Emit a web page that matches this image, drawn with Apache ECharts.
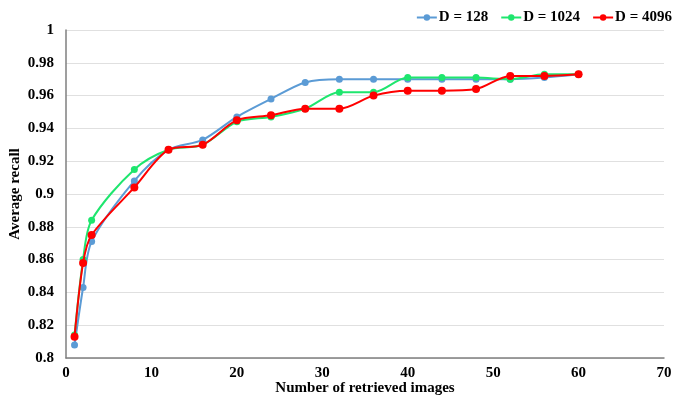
<!DOCTYPE html>
<html>
<head>
<meta charset="utf-8">
<script src="https://cdn.jsdelivr.net/npm/echarts@6/dist/echarts.min.js"></script>
<style>html,body{margin:0;padding:0;background:#fff;}#c{width:694px;height:396px;}</style>
</head>
<body>
<div id="c"></div>
<script>
const xValues = [1, 2, 3, 8, 12, 16, 20, 24, 28, 32, 36, 40, 44, 48, 52, 56, 60];
const d128  = [0.808, 0.843, 0.871, 0.908, 0.927, 0.933, 0.947, 0.958, 0.968, 0.970, 0.970, 0.970, 0.970, 0.970, 0.970, 0.971, 0.973];
const d1024 = [0.814, 0.860, 0.884, 0.915, 0.927, 0.930, 0.944, 0.947, 0.952, 0.962, 0.962, 0.971, 0.971, 0.971, 0.970, 0.973, 0.973];
const d4096 = [0.813, 0.858, 0.875, 0.904, 0.927, 0.930, 0.945, 0.948, 0.952, 0.952, 0.960, 0.963, 0.963, 0.964, 0.972, 0.972, 0.973];
const seriesNames = ['D = 128', 'D = 1024', 'D = 4096'];
const colors = ['#5B9BD5', '#1EE66E', '#FF0000'];

const font = 'Liberation Serif';
function pairs(ys){ return xValues.map((x,i)=>[x, ys[i]]); }
const all = [d128, d1024, d4096];
const chart = echarts.init(document.getElementById('c'));
chart.setOption({
  animation: false,
  backgroundColor: '#fff',
  grid: {left: 66, right: 30, top: 30, bottom: 38, outerBoundsMode: 'none', containLabel: false},
  legend: {
    top: 5, right: 17, itemWidth: 20, itemHeight: 8, itemGap: 12,
    textStyle: {fontFamily: font, fontWeight: 'bold', fontSize: 15, color: '#000', padding: [0, 0, 0, -3]},
    data: seriesNames
  },
  xAxis: {
    type: 'value', min: 0, max: 70, interval: 10,
    name: 'Number of retrieved images', nameLocation: 'middle', nameGap: 23, nameMoveOverlap: false,
    nameTextStyle: {fontFamily: font, fontWeight: 'bold', fontSize: 15, color: '#000'},
    axisLine: {lineStyle: {color: '#7f7f7f', width: 1.5}},
    axisTick: {show: false},
    axisLabel: {fontFamily: font, fontWeight: 'bold', fontSize: 15, color: '#000', margin: 8},
    splitLine: {show: false}
  },
  yAxis: {
    type: 'value', min: 0.8, max: 1, interval: 0.02,
    name: 'Average recall', nameLocation: 'middle', nameGap: 43, nameRotate: 90, nameMoveOverlap: false,
    nameTextStyle: {fontFamily: font, fontWeight: 'bold', fontSize: 15, color: '#000'},
    axisLine: {show: true, lineStyle: {color: '#7f7f7f', width: 1.5}},
    axisTick: {show: false},
    axisLabel: {fontFamily: font, fontWeight: 'bold', fontSize: 15, color: '#000', margin: 12,
      formatter: v => String(parseFloat(v.toFixed(2)))},
    splitLine: {show: true, lineStyle: {color: '#e0e0e0', width: 1}}
  },
  series: all.map((ys, i) => ({
    name: seriesNames[i], type: 'line', data: pairs(ys), smooth: 0.3,
    symbol: 'circle', symbolSize: i === 2 ? 8 : 7,
    lineStyle: {color: colors[i], width: 2},
    itemStyle: {color: colors[i]},
    z: 2 + i
  }))
});
</script>
</body>
</html>
